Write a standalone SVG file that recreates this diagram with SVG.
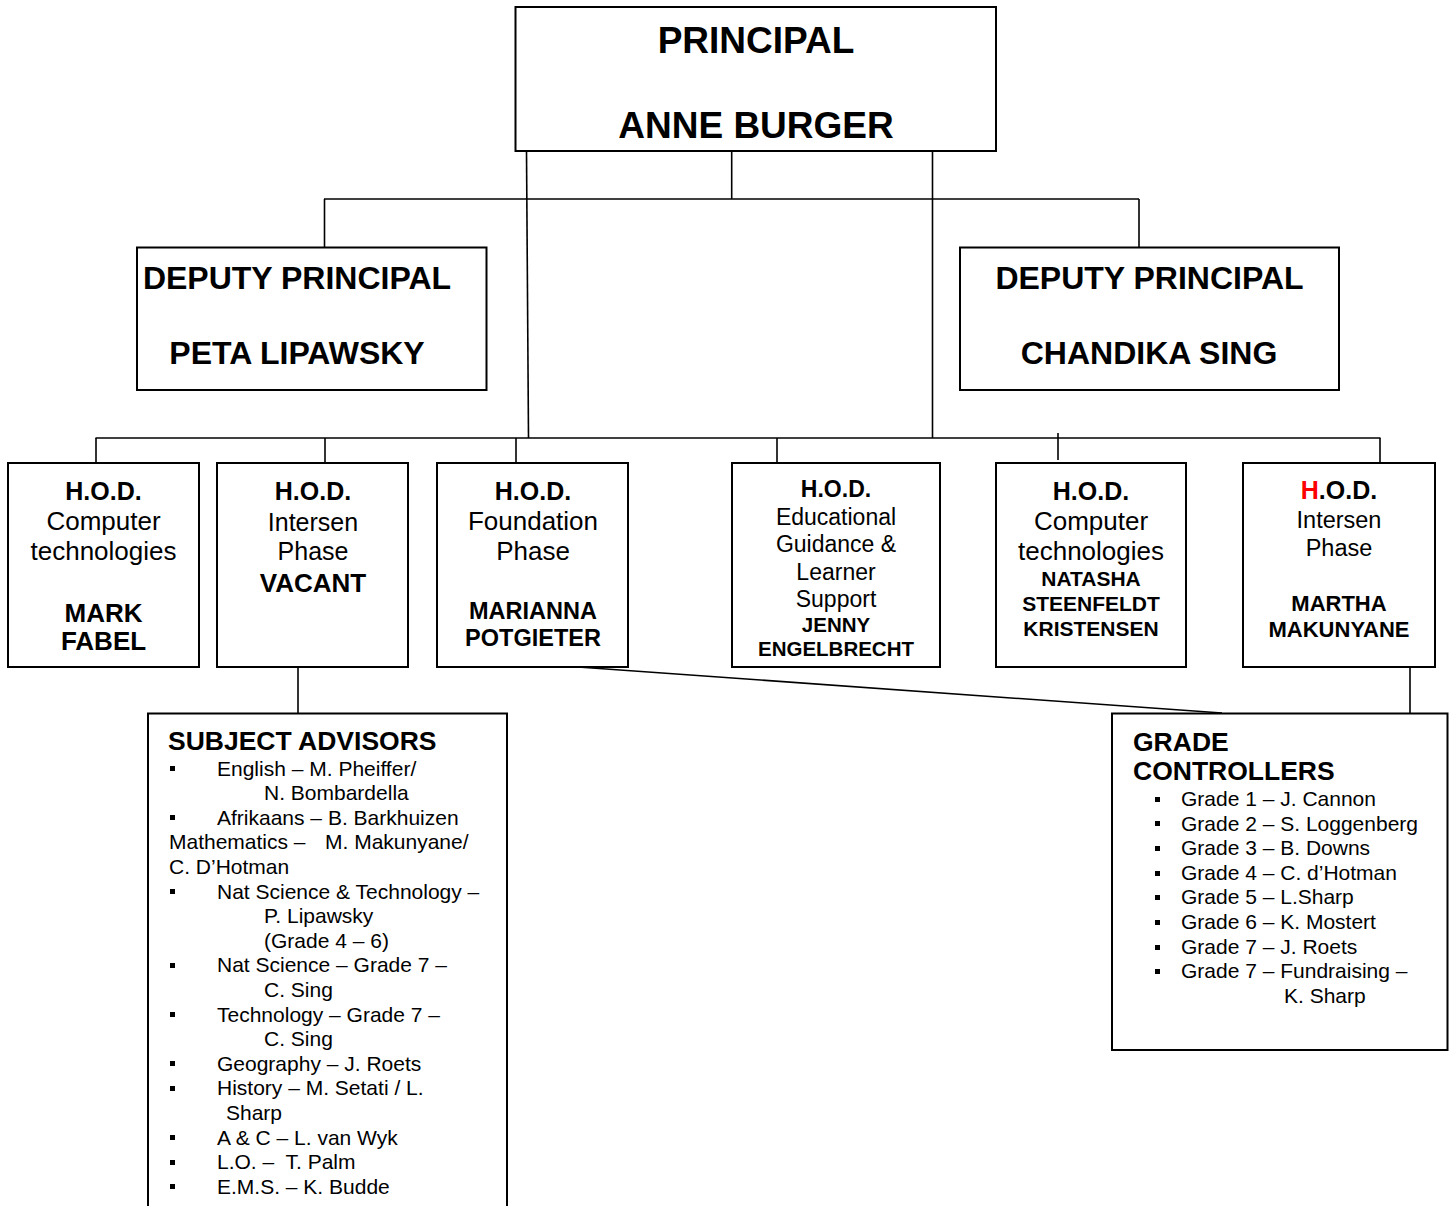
<svg xmlns="http://www.w3.org/2000/svg" width="1453" height="1206" viewBox="0 0 1453 1206">
<style>
text{font-family:"Liberation Sans",Arial,sans-serif;fill:#000}
.box{fill:#fff;stroke:#000;stroke-width:2}
.ln{stroke:#000;stroke-width:1.6;fill:none}
.c{text-anchor:middle}
.b{font-weight:bold}
.li{font-size:21px}
.bl{fill:#000}
</style>
<rect x="0" y="0" width="1453" height="1206" fill="#fff"/>
<g id="connectors">
<line class="ln" x1="526.5" y1="151" x2="528.5" y2="438"/>
<line class="ln" x1="932.5" y1="151" x2="932.5" y2="438"/>
<line class="ln" x1="731.7" y1="151" x2="731.7" y2="199"/>
<line class="ln" x1="324" y1="199" x2="1139" y2="199"/>
<line class="ln" x1="324.5" y1="199" x2="324.5" y2="248"/>
<line class="ln" x1="1139" y1="199" x2="1139" y2="248"/>
<line class="ln" x1="95.5" y1="438" x2="1380.5" y2="438"/>
<line class="ln" x1="96" y1="438" x2="96" y2="463"/>
<line class="ln" x1="325" y1="438" x2="325" y2="463"/>
<line class="ln" x1="516" y1="438" x2="516" y2="463"/>
<line class="ln" x1="777" y1="438" x2="777" y2="463"/>
<line class="ln" x1="1380" y1="438" x2="1380" y2="463"/>
<line class="ln" x1="1058" y1="433" x2="1058" y2="460"/>
<line class="ln" x1="298" y1="667" x2="298" y2="713"/>
<line class="ln" x1="1410" y1="667" x2="1410" y2="713"/>
<line class="ln" x1="578" y1="667" x2="1222" y2="713"/>
</g>
<g id="principal">
<rect class="box" x="515.5" y="7" width="480.5" height="144"/>
<text class="c b" x="756" y="53" font-size="37">PRINCIPAL</text>
<text class="c b" x="756" y="138" font-size="37">ANNE BURGER</text>
</g>
<g id="deputy-left">
<rect class="box" x="137" y="247.5" width="349.5" height="142.5"/>
<text class="c b" x="297" y="288.5" font-size="32">DEPUTY PRINCIPAL</text>
<text class="c b" x="297" y="363.5" font-size="32">PETA LIPAWSKY</text>
</g>
<g id="deputy-right">
<rect class="box" x="960" y="247.5" width="379" height="142.5"/>
<text class="c b" x="1149.5" y="288.5" font-size="32">DEPUTY PRINCIPAL</text>
<text class="c b" x="1149" y="363.5" font-size="32">CHANDIKA SING</text>
</g>
<g id="hod1">
<rect class="box" x="8" y="463" width="191" height="204"/>
<text class="c b" x="103.5" y="500" font-size="25">H.O.D.</text>
<text class="c" x="103.5" y="530" font-size="26">Computer</text>
<text class="c" x="103.5" y="559.5" font-size="26">technologies</text>
<text class="c b" x="103.5" y="622" font-size="26">MARK</text>
<text class="c b" x="103.5" y="650" font-size="26">FABEL</text>
</g>
<g id="hod2">
<rect class="box" x="217" y="463" width="191" height="204"/>
<text class="c b" x="313" y="500" font-size="25">H.O.D.</text>
<text class="c" x="313" y="530.5" font-size="25">Intersen</text>
<text class="c" x="313" y="559.5" font-size="25">Phase</text>
<text class="c b" x="313" y="591.5" font-size="26">VACANT</text>
</g>
<g id="hod3">
<rect class="box" x="437" y="463" width="191" height="204"/>
<text class="c b" x="533" y="500" font-size="25">H.O.D.</text>
<text class="c" x="533" y="530" font-size="26">Foundation</text>
<text class="c" x="533" y="560" font-size="26">Phase</text>
<text class="c b" x="533" y="618.5" font-size="23.5">MARIANNA</text>
<text class="c b" x="533" y="645.5" font-size="23.5">POTGIETER</text>
</g>
<g id="hod4">
<rect class="box" x="732" y="463" width="208" height="204"/>
<text class="c b" x="836" y="497" font-size="23">H.O.D.</text>
<text class="c" x="836" y="524.5" font-size="23">Educational</text>
<text class="c" x="836" y="552" font-size="23">Guidance &amp;</text>
<text class="c" x="836" y="580" font-size="23">Learner</text>
<text class="c" x="836" y="607" font-size="23">Support</text>
<text class="c b" x="836" y="631.5" font-size="20.5">JENNY</text>
<text class="c b" x="836" y="655.5" font-size="20.5">ENGELBRECHT</text>
</g>
<g id="hod5">
<rect class="box" x="996" y="463" width="190" height="204"/>
<text class="c b" x="1091" y="500" font-size="25">H.O.D.</text>
<text class="c" x="1091" y="530" font-size="26">Computer</text>
<text class="c" x="1091" y="559.5" font-size="26">technologies</text>
<text class="c b" x="1091" y="585.5" font-size="21">NATASHA</text>
<text class="c b" x="1091" y="610.5" font-size="21">STEENFELDT</text>
<text class="c b" x="1091" y="635.5" font-size="21">KRISTENSEN</text>
</g>
<g id="hod6">
<rect class="box" x="1243" y="463" width="192" height="204"/>
<text class="c b" x="1339" y="499" font-size="25"><tspan fill="#ff0000">H</tspan>.O.D.</text>
<text class="c" x="1339" y="527.5" font-size="23.5">Intersen</text>
<text class="c" x="1339" y="555.5" font-size="23.5">Phase</text>
<text class="c b" x="1339" y="610.5" font-size="22">MARTHA</text>
<text class="c b" x="1339" y="636.5" font-size="22">MAKUNYANE</text>
</g>
<g id="subject-advisors">
<rect class="box" x="148" y="713.5" width="359" height="510"/>
<text class="b" x="168" y="749.5" font-size="26.5">SUBJECT ADVISORS</text>
<g class="bl">
<rect x="170" y="766" width="5" height="5"/>
<rect x="170" y="815" width="5" height="5"/>
<rect x="170" y="889" width="5" height="5"/>
<rect x="170" y="963" width="5" height="5"/>
<rect x="170" y="1012" width="5" height="5"/>
<rect x="170" y="1061" width="5" height="5"/>
<rect x="170" y="1086" width="5" height="5"/>
<rect x="170" y="1135" width="5" height="5"/>
<rect x="170" y="1160" width="5" height="5"/>
<rect x="170" y="1184" width="5" height="5"/>
</g>
<text class="li" x="217" y="775.5">English – M. Pheiffer/</text>
<text class="li" x="264" y="800">N. Bombardella</text>
<text class="li" x="217" y="824.5">Afrikaans – B. Barkhuizen</text>
<text class="li" x="169" y="849">Mathematics –<tspan x="325">M. Makunyane/</tspan></text>
<text class="li" x="169" y="874">C. D’Hotman</text>
<text class="li" x="217" y="898.5">Nat Science &amp; Technology –</text>
<text class="li" x="264" y="923">P. Lipawsky</text>
<text class="li" x="264" y="947.5">(Grade 4 – 6)</text>
<text class="li" x="217" y="972">Nat Science – Grade 7 –</text>
<text class="li" x="264" y="997">C. Sing</text>
<text class="li" x="217" y="1021.5">Technology – Grade 7 –</text>
<text class="li" x="264" y="1046">C. Sing</text>
<text class="li" x="217" y="1070.5">Geography – J. Roets</text>
<text class="li" x="217" y="1095">History – M. Setati / L.</text>
<text class="li" x="226" y="1120">Sharp</text>
<text class="li" x="217" y="1144.5">A &amp; C – L. van Wyk</text>
<text class="li" x="217" y="1169" xml:space="preserve">L.O. –  T. Palm</text>
<text class="li" x="217" y="1193.5">E.M.S. – K. Budde</text>
</g>
<g id="grade-controllers">
<rect class="box" x="1112" y="713.5" width="335.5" height="336.5"/>
<text class="b" x="1133" y="751" font-size="26.5">GRADE</text>
<text class="b" x="1133" y="780" font-size="26.5">CONTROLLERS</text>
<g class="bl">
<rect x="1155" y="797" width="5" height="5"/>
<rect x="1155" y="821" width="5" height="5"/>
<rect x="1155" y="846" width="5" height="5"/>
<rect x="1155" y="871" width="5" height="5"/>
<rect x="1155" y="895" width="5" height="5"/>
<rect x="1155" y="920" width="5" height="5"/>
<rect x="1155" y="945" width="5" height="5"/>
<rect x="1155" y="969" width="5" height="5"/>
</g>
<text class="li" x="1181" y="806">Grade 1 – J. Cannon</text>
<text class="li" x="1181" y="830.5">Grade 2 – S. Loggenberg</text>
<text class="li" x="1181" y="855">Grade 3 – B. Downs</text>
<text class="li" x="1181" y="879.5">Grade 4 – C. d’Hotman</text>
<text class="li" x="1181" y="904">Grade 5 – L.Sharp</text>
<text class="li" x="1181" y="929">Grade 6 – K. Mostert</text>
<text class="li" x="1181" y="953.5">Grade 7 – J. Roets</text>
<text class="li" x="1181" y="978">Grade 7 – Fundraising –</text>
<text class="li" x="1284" y="1002.5">K. Sharp</text>
</g>
</svg>
